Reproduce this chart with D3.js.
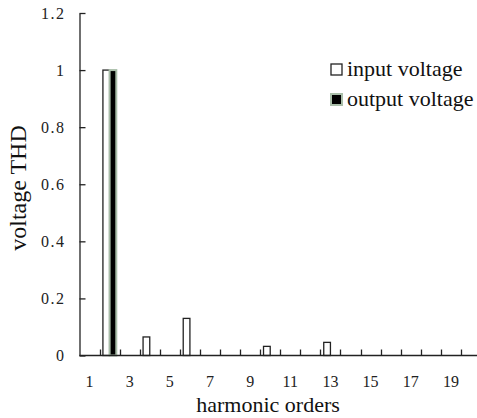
<!DOCTYPE html>
<html>
<head>
<meta charset="utf-8">
<script src="https://cdn.jsdelivr.net/npm/d3@7"></script>
<style>
  body { margin: 0; background: #fff; }
  text { font-family: "Liberation Serif", serif !important; }
</style>
</head>
<body>
<script>
// harmonic orders 1..20
var orders = d3.range(1, 21)
var series = ['input voltage', 'output voltage']
// voltage THD (0 = no bar)
var inputTHD  = [0, 1.0, 0, 0.065, 0, 0.13, 0, 0, 0, 0.032, 0, 0, 0.046, 0, 0, 0, 0, 0, 0, 0]
var outputTHD = [0, 1.0, 0, 0, 0, 0, 0, 0, 0, 0, 0, 0, 0, 0, 0, 0, 0, 0, 0, 0]
var yTicks = [0, 0.2, 0.4, 0.6, 0.8, 1, 1.2]
var xLabels = [1, 3, 5, 7, 9, 11, 13, 15, 17, 19]

var w = 477, h = 418
var x0 = 79.5, x1 = 481, yBase = 355.5, yTop = 13

var svg = d3.select('body').append('svg')
    .attr('width', w)
    .attr('height', h)
    .attr('font-family', 'Liberation Serif')

var xScale = d3.scaleBand()
    .domain(orders)
    .range([x0, x1])
    .paddingInner(0)
    .paddingOuter(0)

// two bars per order, gap of one bar width
var xSub = d3.scaleBand()
    .domain(series)
    .range([0, xScale.bandwidth()])
    .paddingInner(0)
    .paddingOuter(0.5)

var yScale = d3.scaleLinear()
    .domain([0, 1.2])
    .range([yBase, yTop])

// bars
var rows = []
orders.forEach(function (o, i) {
  rows.push({ order: o, s: series[0], v: inputTHD[i] })
  rows.push({ order: o, s: series[1], v: outputTHD[i] })
})

svg.selectAll('rect.bar')
    .data(rows.filter(function (d) { return d.v > 0 }))
    .enter()
  .append('rect')
    .attr('class', 'bar')
    .attr('x', function (d) { return xScale(d.order) + xSub(d.s) })
    .attr('y', function (d) { return yScale(d.v) })
    .attr('width', xSub.bandwidth())
    .attr('height', function (d) { return yScale(0) - yScale(d.v) })
    .attr('fill', function (d) { return d.s == series[0] ? '#fff' : '#000' })
    .attr('stroke', function (d) { return d.s == series[0] ? '#222' : '#a9bea9' })
    .attr('stroke-width', function (d) { return d.s == series[0] ? 1.3 : 2 })

// y axis
var yAxis = d3.axisLeft(yScale)
    .tickValues(yTicks)
    .tickSizeInner(-6)
    .tickSizeOuter(0)
    .tickPadding(14)
    .tickFormat(function (d) { return d })

var gy = svg.append('g')
    .attr('transform', 'translate(' + x0 + ',0)')
    .call(yAxis)
    .attr('font-family', 'Liberation Serif')
    .attr('font-size', 16)
gy.select('.domain').attr('stroke', '#222').attr('stroke-width', 1.3)
gy.selectAll('.tick line').attr('stroke', '#222').attr('stroke-width', 1.3)
gy.selectAll('.tick text')
    .style('letter-spacing', '1.5px')
    .attr('fill', '#222')

// x axis: ticks between categories, labels on odd orders
svg.append('line')
    .attr('x1', x0).attr('x2', x1)
    .attr('y1', yBase).attr('y2', yBase)
    .attr('stroke', '#222').attr('stroke-width', 1.3)

svg.selectAll('line.xtick')
    .data(orders.slice(1))
    .enter()
  .append('line')
    .attr('class', 'xtick')
    .attr('x1', function (d) { return Math.round(xScale(d)) + 0.5 })
    .attr('x2', function (d) { return Math.round(xScale(d)) + 0.5 })
    .attr('y1', yBase)
    .attr('y2', yBase - 6)
    .attr('stroke', '#222').attr('stroke-width', 1.3)

svg.selectAll('text.xlab')
    .data(xLabels)
    .enter()
  .append('text')
    .attr('class', 'xlab')
    .attr('x', function (d) { return xScale(d) + xScale.bandwidth() / 2 })
    .attr('y', 387)
    .attr('text-anchor', 'middle')
    .attr('font-size', 16)
    .attr('fill', '#222')
    .text(function (d) { return d })

// axis titles
svg.append('text')
    .attr('x', 268)
    .attr('y', 412)
    .attr('text-anchor', 'middle')
    .attr('font-size', 22)
    .attr('fill', '#111')
    .text('harmonic orders')

svg.append('text')
    .attr('transform', 'translate(26,188) rotate(-90)')
    .attr('text-anchor', 'middle')
    .attr('font-size', 24)
    .attr('fill', '#111')
    .text('voltage THD')

// legend
var legend = svg.selectAll('g.legend')
    .data(series)
    .enter()
  .append('g')
    .attr('class', 'legend')
    .attr('transform', function (d, i) { return 'translate(331,' + (64 + i * 30) + ')' })

legend.append('rect')
    .attr('width', 11)
    .attr('height', 11)
    .attr('fill', function (d, i) { return i == 0 ? '#fff' : '#000' })
    .attr('stroke', function (d, i) { return i == 0 ? '#222' : '#a9bea9' })
    .attr('stroke-width', function (d, i) { return i == 0 ? 1.3 : 2 })

legend.append('text')
    .attr('x', 16)
    .attr('y', 12)
    .attr('font-size', 22)
    .attr('fill', '#111')
    .text(function (d) { return d })
</script>
</body>
</html>
